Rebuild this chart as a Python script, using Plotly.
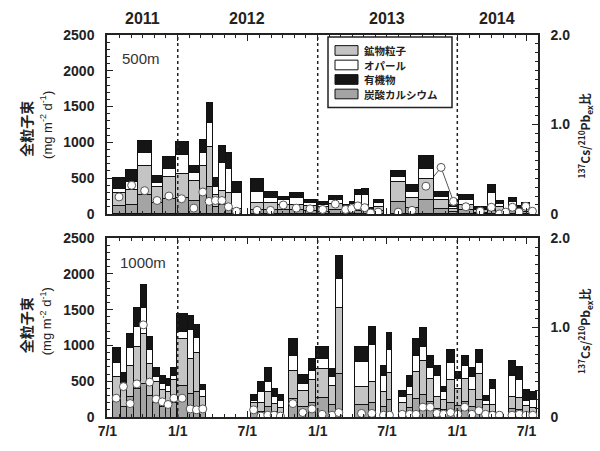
import pandas as pd
import plotly.graph_objects as go

# ---------------- 500 m sediment trap ----------------
top_start = ["2011-07-15", "2011-08-17", "2011-09-19", "2011-10-24", "2011-11-23", "2011-12-25",
             "2012-01-28", "2012-02-27", "2012-03-15", "2012-03-31", "2012-04-17", "2012-05-04",
             "2012-05-21", "2012-07-09", "2012-08-13", "2012-09-17", "2012-10-19", "2012-11-24",
             "2012-12-30", "2013-01-29", "2013-03-06", "2013-03-24", "2013-04-07", "2013-04-25",
             "2013-05-13", "2013-05-26", "2013-07-11", "2013-08-19", "2013-09-21", "2013-10-31",
             "2013-12-09", "2014-01-04", "2014-02-12", "2014-03-20", "2014-04-11", "2014-05-01",
             "2014-05-14", "2014-06-05", "2014-06-18", "2014-07-10"]
top_end = ["2011-08-17", "2011-09-19", "2011-10-24", "2011-11-23", "2011-12-25", "2012-01-28",
           "2012-02-27", "2012-03-15", "2012-03-31", "2012-04-17", "2012-05-04", "2012-05-21",
           "2012-06-15", "2012-08-13", "2012-09-17", "2012-10-19", "2012-11-24", "2012-12-30",
           "2013-01-29", "2013-03-06", "2013-03-24", "2013-04-07", "2013-04-25", "2013-05-13",
           "2013-05-26", "2013-06-21", "2013-08-19", "2013-09-21", "2013-10-31", "2013-12-09",
           "2014-01-04", "2014-02-12", "2014-03-20", "2014-04-11", "2014-05-01", "2014-05-14",
           "2014-06-05", "2014-06-18", "2014-07-10", "2014-07-23"]
top_carbonate = [120, 135, 270, 155, 210, 225, 190, 270, 380, 110, 130, 120, 30, 65, 65, 55, 55, 45,
                 40, 60, 30, 40, 50, 50, 20, 45, 180, 90, 200, 80, 28, 55, 24, 45, 40, 10, 48, 24, 32, 16]
top_mineral = [180, 205, 405, 230, 320, 335, 280, 410, 565, 160, 200, 180, 50, 95, 95, 80, 80, 68,
               60, 90, 50, 60, 80, 75, 30, 65, 270, 135, 300, 123, 42, 80, 36, 68, 60, 15, 72, 36, 48, 24]
top_opal = [55, 120, 180, 55, 100, 275, 115, 175, 330, 115, 390, 330, 220, 160, 65, 68, 90, 45,
            35, 45, 30, 40, 135, 145, 20, 50, 68, 90, 140, 45, 30, 68, 20, 193, 40, 10, 60, 30, 40, 15]
top_organic = [160, 155, 170, 100, 170, 175, 95, 180, 280, 120, 230, 225, 150, 170, 90, 45, 75, 42,
               45, 60, 25, 40, 75, 90, 20, 43, 90, 90, 175, 67, 26, 67, 17, 104, 45, 10, 50, 23, 38, 13]
top_ratio = [0.19, 0.32, 0.26, 0.15, 0.20, 0.17, 0.065, 0.245, 0.14, 0.15, 0.15, 0.08, 0.03, 0.04,
             0.04, 0.10, 0.065, 0.057, 0.05, 0.11, 0.05, 0.06, 0.09, 0.07, 0.01, 0.02, 0.02, 0.04,
             0.31, 0.52, 0.14, 0.08, 0.03, 0.075, 0.0, 0.02, 0.075, 0.02, 0.085, 0.03]

# ---------------- 1000 m sediment trap ----------------
bot_start = ["2011-07-14", "2011-08-03", "2011-08-21", "2011-09-07", "2011-09-25", "2011-10-11",
             "2011-10-28", "2011-11-14", "2011-11-29", "2011-12-14", "2011-12-30", "2012-01-26",
             "2012-02-10", "2012-02-28", "2012-07-08", "2012-07-27", "2012-08-15", "2012-09-01",
             "2012-09-17", "2012-10-17", "2012-11-08", "2012-12-08", "2012-12-26", "2013-01-30",
             "2013-02-16", "2013-04-07", "2013-05-14", "2013-06-13", "2013-07-01", "2013-07-31",
             "2013-08-20", "2013-09-07", "2013-09-23", "2013-10-13", "2013-10-31", "2013-11-17",
             "2013-12-05", "2013-12-24", "2014-01-12", "2014-01-29", "2014-02-18", "2014-03-07",
             "2014-03-25", "2014-04-12", "2014-05-14", "2014-06-03", "2014-06-21", "2014-07-08"]
bot_end = ["2011-08-03", "2011-08-21", "2011-09-07", "2011-09-25", "2011-10-11", "2011-10-28",
           "2011-11-14", "2011-11-29", "2011-12-14", "2011-12-30", "2012-01-26", "2012-02-10",
           "2012-02-28", "2012-03-14", "2012-07-27", "2012-08-15", "2012-09-01", "2012-09-17",
           "2012-10-04", "2012-11-08", "2012-12-08", "2012-12-26", "2013-01-30", "2013-02-16",
           "2013-03-06", "2013-05-14", "2013-05-31", "2013-07-01", "2013-07-14", "2013-08-20",
           "2013-09-07", "2013-09-23", "2013-10-13", "2013-10-31", "2013-11-17", "2013-12-05",
           "2013-12-24", "2014-01-12", "2014-01-29", "2014-02-18", "2014-03-07", "2014-03-25",
           "2014-04-12", "2014-04-30", "2014-06-03", "2014-06-21", "2014-07-08", "2014-07-27"]
bot_carbonate = [225, 153, 288, 396, 468, 297, 198, 153, 144, 207, 440, 324, 360, 117, 81, 81, 144,
                 76, 54, 261, 148, 207, 270, 177, 612, 171, 198, 144, 248, 81, 126, 252, 315, 216,
                 117, 99, 207, 162, 216, 153, 243, 72, 72, 3, 117, 108, 63, 52]
bot_mineral = [338, 230, 432, 594, 703, 446, 298, 230, 216, 311, 660, 487, 541, 176, 122, 122, 216,
               113, 81, 392, 221, 311, 405, 265, 919, 257, 297, 216, 372, 122, 189, 378, 473, 324,
               176, 149, 311, 243, 324, 230, 365, 108, 108, 5, 176, 162, 95, 78]
bot_opal = [203, 90, 248, 271, 360, 203, 67, 90, 82, 67, 93, 405, 203, 90, 31, 157, 135, 104, 99,
            202, 104, 135, 136, 121, 405, 346, 518, 225, 330, 77, 113, 225, 202, 158, 292, 112, 248,
            135, 180, 180, 158, 45, 225, 2, 292, 248, 76, 120]
bot_organic = [202, 148, 203, 270, 324, 180, 135, 112, 98, 113, 248, 202, 193, 67, 81, 135, 190,
               103, 81, 235, 122, 158, 179, 112, 324, 208, 248, 135, 230, 89, 157, 235, 262, 157,
               135, 68, 184, 95, 145, 122, 184, 75, 120, 5, 203, 182, 146, 110]
bot_ratio = [0.21, 0.34, 0.15, 0.37, 1.03, 0.39, 0.20, 0.17, 0.14, 0.21, 0.21, 0.09, 0.08, 0.09,
             0.08, 0.01, 0.02, 0.02, 0.01, 0.15, 0.05, 0.09, 0.03, 0.02, 0.05, 0.04, 0.04, 0.02,
             0.02, 0.03, 0.03, 0.03, 0.11, 0.11, 0.04, 0.03, 0.05, 0.03, 0.11, 0.03, 0.07, 0.03,
             0.02, 0.02, 0.02, 0.03, 0.02, 0.02]

year_labels = ["2011", "2012", "2013", "2014"]
year_label_pos = ["2011-10-01", "2012-07-01", "2013-07-01", "2014-04-15"]
year_starts = ["2012-01-01", "2013-01-01", "2014-01-01"]

# component name, fill colour; listed bottom-to-top of the stack
components = [
    ("炭酸カルシウム", "#a4a4a4"),
    ("鉱物粒子", "#c4c4c4"),
    ("オパール", "#ffffff"),
    ("有機物", "#151515"),
]
# order of the entries in the key box
legend_order = ["鉱物粒子", "オパール", "有機物", "炭酸カルシウム"]

NUM_FONT = "Liberation Sans, Arial, sans-serif"
CJK_FONT = "Noto Sans CJK JP, sans-serif"
INK = "#222"

fig = go.Figure()


def add_panel(start, end, parts, ratio, xa, y_ratio, y_flux, y_mark):
    s = pd.to_datetime(pd.Series(start))
    e = pd.to_datetime(pd.Series(end))
    width_ms = ((e - s).dt.total_seconds() * 1000).tolist()
    mid = s + (e - s) / 2

    # thin line linking the ratio points, on the bottom layer so the bars hide it
    lx, ly = [], []
    for i in range(len(s)):
        if i > 0 and s[i] != e[i - 1]:
            lx.append(None)
            ly.append(None)
        lx.append(mid[i])
        ly.append(ratio[i])
    fig.add_trace(go.Scatter(x=lx, y=ly, mode="lines", line=dict(color="#555", width=1),
                             xaxis=xa, yaxis=y_ratio, showlegend=False, hoverinfo="skip"))

    for (name, color), vals in zip(components, parts):
        fig.add_trace(go.Bar(x=s, y=vals, width=width_ms, offset=0, name=name,
                             marker=dict(color=color, line=dict(color="#111", width=1)),
                             xaxis=xa, yaxis=y_flux, showlegend=False))

    fig.add_trace(go.Scatter(x=mid, y=ratio, mode="markers",
                             marker=dict(size=8, color="white", line=dict(color="#555", width=1)),
                             xaxis=xa, yaxis=y_mark, showlegend=False))


add_panel(top_start, top_end, [top_carbonate, top_mineral, top_opal, top_organic], top_ratio,
          "x", "y", "y2", "y3")
add_panel(bot_start, bot_end, [bot_carbonate, bot_mineral, bot_opal, bot_organic], bot_ratio,
          "x2", "y4", "y5", "y6")

TOP_DOM = [0.5316, 1.0]
BOT_DOM = [0.0, 0.4684]
X_RANGE = ["2011-06-30", "2014-07-31"]
tickfont = dict(family=NUM_FONT, size=14, color=INK, weight="bold")

xcommon = dict(type="date", range=X_RANGE, showline=True, linecolor=INK, linewidth=1.5,
               mirror="ticks", ticks="inside", ticklen=6, tickcolor=INK, tick0="2011-07-01",
               dtick="M6", minor=dict(dtick="M1", ticks="inside", ticklen=3, tickcolor=INK),
               showgrid=False, zeroline=False, tickfont=tickfont, tickformat="%-m/%-d")

ratio_axis = dict(side="right", range=[0, 2], tickvals=[0, 1, 2], ticktext=["0", "1.0", "2.0"],
                  showline=True, linecolor=INK, linewidth=1.5, ticks="inside", ticklen=6,
                  tickcolor=INK, minor=dict(dtick=0.1, ticks="inside", ticklen=3, tickcolor=INK),
                  showgrid=False, zeroline=False, tickfont=tickfont, ticklabelstandoff=8)
flux_axis = dict(side="left", range=[0, 2500], dtick=500, showline=True, linecolor=INK,
                 linewidth=1.5, ticks="inside", ticklen=6, tickcolor=INK,
                 minor=dict(dtick=100, ticks="inside", ticklen=3, tickcolor=INK),
                 showgrid=False, zeroline=False, tickfont=tickfont, ticklabelstandoff=8)
hidden_axis = dict(range=[0, 2], visible=False, showgrid=False, zeroline=False)

fig.update_layout(
    width=600, height=451,
    margin=dict(l=107, r=62, t=35, b=21),
    paper_bgcolor="white", plot_bgcolor="white",
    barmode="stack",
    showlegend=False,
    xaxis=dict(xcommon, anchor="y", showticklabels=False),
    xaxis2=dict(xcommon, anchor="y4", matches="x", showticklabels=True),
    yaxis=dict(ratio_axis, domain=TOP_DOM, anchor="x"),
    yaxis2=dict(flux_axis, overlaying="y", anchor="x"),
    yaxis3=dict(hidden_axis, overlaying="y", anchor="x"),
    yaxis4=dict(ratio_axis, domain=BOT_DOM, anchor="x2"),
    yaxis5=dict(flux_axis, overlaying="y4", anchor="x2"),
    yaxis6=dict(hidden_axis, overlaying="y4", anchor="x2"),
)

# plot-area fractions for the key box (paper coords span the plotting region)
PW, PH, PL, PB = 431.0, 395.0, 107.0, 430.0


def px_x(v):
    return (v - PL) / PW


def px_y(v):
    return (PB - v) / PH


shapes = []
# dotted lines at the start of each year
for d in year_starts:
    for xr, yr in (("x", "y domain"), ("x2", "y4 domain")):
        shapes.append(dict(type="line", xref=xr, yref=yr, x0=d, x1=d, y0=0, y1=1,
                           line=dict(color=INK, width=1.5, dash="dot"), layer="above"))

ann = []
# key box
colour_of = dict(components)
shapes.append(dict(type="rect", xref="paper", yref="paper", x0=px_x(328), x1=px_x(452),
                   y0=px_y(110), y1=px_y(37), line=dict(color=INK, width=1.5),
                   fillcolor="white", layer="above"))
for i, name in enumerate(legend_order):
    yc = 51 + 15 * i
    shapes.append(dict(type="rect", xref="paper", yref="paper", x0=px_x(335), x1=px_x(358),
                       y0=px_y(yc + 5), y1=px_y(yc - 5), line=dict(color="#111", width=1),
                       fillcolor=colour_of[name], layer="above"))
    ann.append(dict(text=name, x=px_x(363), y=px_y(yc), xref="paper", yref="paper",
                    xanchor="left", yanchor="middle", showarrow=False, height=14, borderpad=0,
                    font=dict(family=CJK_FONT, size=10.5, color=INK, weight="bold")))
fig.update_layout(shapes=shapes)

for lab, pos in zip(year_labels, year_label_pos):
    ann.append(dict(text=lab, x=pos, xref="x", y=px_y(18), yref="paper", showarrow=False,
                    xanchor="center", yanchor="middle",
                    font=dict(family=NUM_FONT, size=16, color=INK, weight="bold")))
ann.append(dict(text="500m", x=px_x(120), y=px_y(59), xref="paper", yref="paper",
                xanchor="left", yanchor="middle", showarrow=False,
                font=dict(family=NUM_FONT, size=15, color="#333")))
ann.append(dict(text="1000m", x=px_x(118), y=px_y(270), xref="paper", yref="paper",
                xanchor="left", yanchor="middle", showarrow=False,
                font=dict(family=NUM_FONT, size=15, color="#333")))
for yc in (132, 335):
    ann.append(dict(text="全粒子束", x=px_x(26), y=px_y(yc), xref="paper", yref="paper",
                    textangle=-90, xanchor="center", yanchor="middle", showarrow=False,
                    font=dict(family=CJK_FONT, size=14, color=INK, weight="bold")))
    ann.append(dict(text="(mg m<sup>-2</sup> d<sup>-1</sup>)", x=px_x(46), y=px_y(yc - 4),
                    xref="paper", yref="paper", textangle=-90, xanchor="center",
                    yanchor="middle", showarrow=False,
                    font=dict(family=NUM_FONT, size=13, color=INK)))
for yc in (140, 342):
    ann.append(dict(text="<sup>137</sup>Cs/<sup>210</sup>Pb<sub>ex</sub>比", x=px_x(585),
                    y=px_y(yc), xref="paper", yref="paper", textangle=-90, xanchor="center",
                    yanchor="middle", showarrow=False,
                    font=dict(family=CJK_FONT, size=12, color=INK, weight="bold")))
fig.update_layout(annotations=ann)

fig.write_html("out.html")
